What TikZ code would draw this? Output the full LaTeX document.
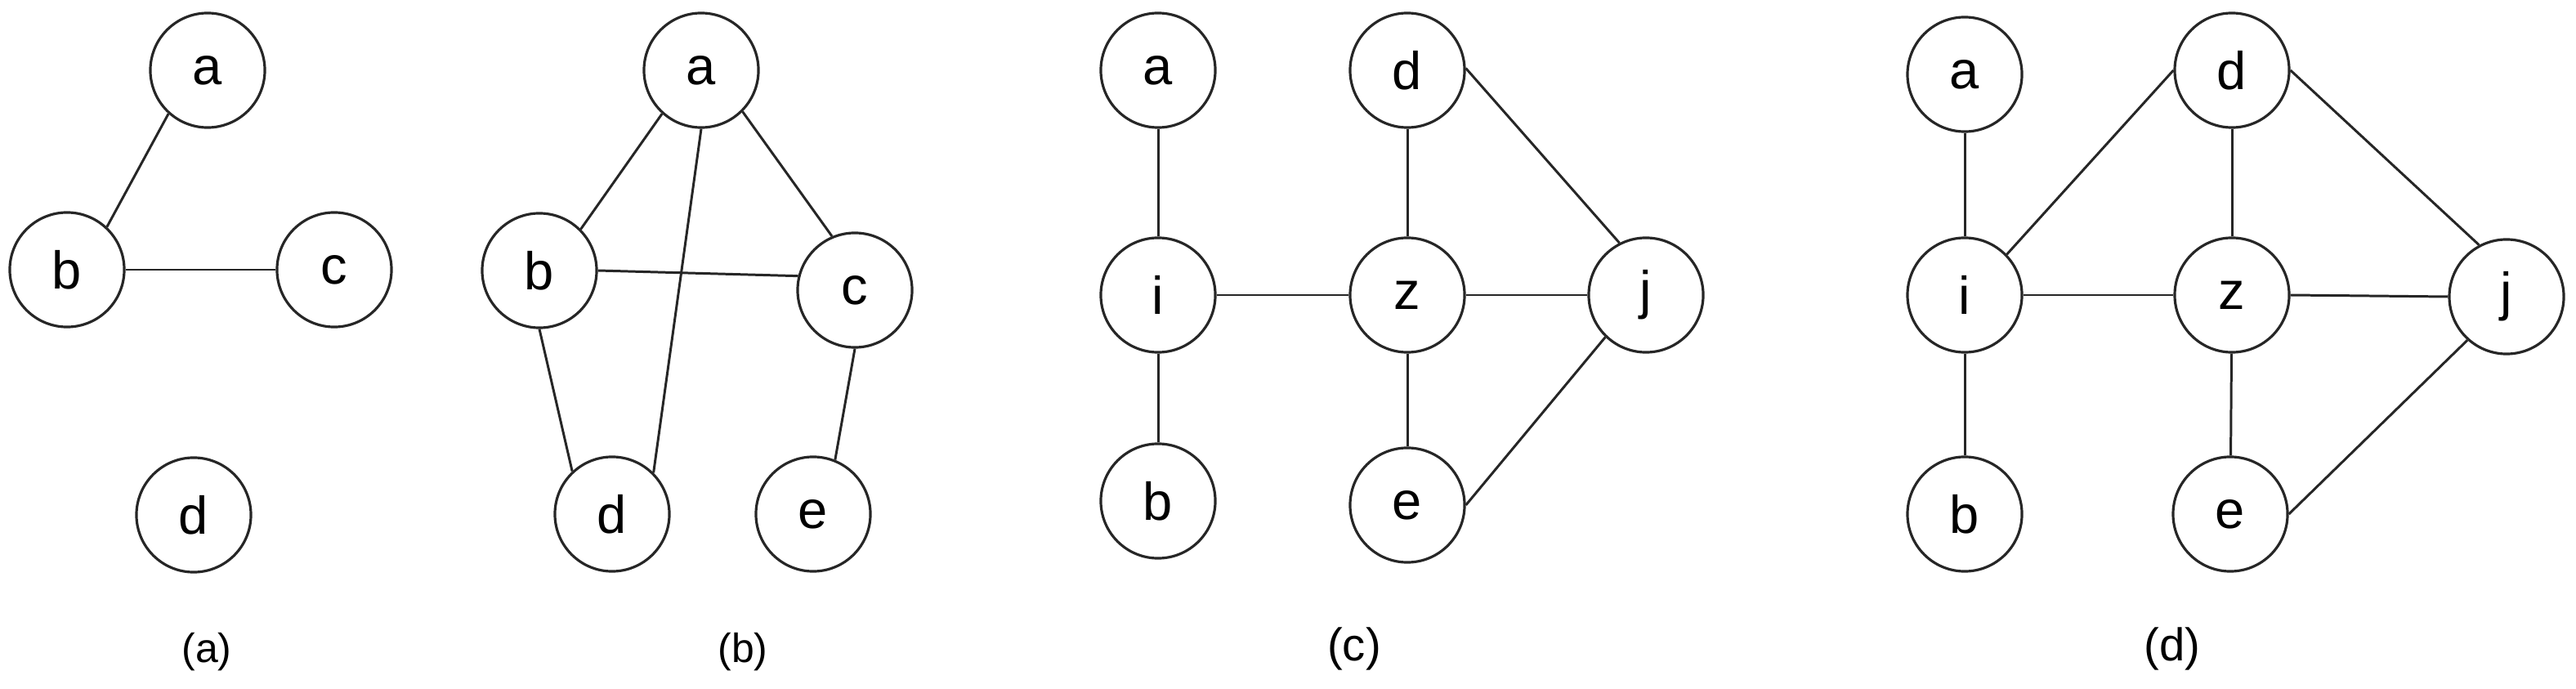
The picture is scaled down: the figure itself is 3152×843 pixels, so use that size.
\documentclass[tikz,border=0pt]{standalone}
\usepackage{fontspec}
\setmainfont{Liberation Sans}
\begin{document}
\begin{tikzpicture}[x=0.01cm,y=-0.01cm,
  vtx/.style={circle,draw=black!85,line width=0.9pt,minimum size=1.4cm,inner sep=0pt,font=\fontsize{18.5}{20}\selectfont},
  edge/.style={draw=black!85,line width=0.85pt},
  sublabel/.style={font=\fontsize{14.2}{16}\selectfont},
  biglabel/.style={font=\fontsize{16}{18}\selectfont}]
\useasboundingbox (0,0) rectangle (3152,843);
% (a)
\node[vtx] (aa) at (254,86) {a};
\node[vtx] (ab) at (82,330) {b};
\node[vtx] (ac) at (409,330) {c};
\node[vtx] (ad) at (237,630) {d};
\draw[edge] (aa.228) -- (ab.47);
\draw[edge] (ab.east) -- (ac.west);
\node[sublabel] (la) at (253,798) {(a)};
% (b)
\node[vtx] (ba) at (858,86) {a};
\node[vtx] (bb) at (660,331) {b};
\node[vtx] (bc) at (1046,355) {c};
\node[vtx] (bd) at (749,629) {d};
\node[vtx] (be) at (995,629) {e};
\draw[edge] (ba.228) -- (bb.45);
\draw[edge] (ba.315) -- (bc.113);
\draw[edge] (ba.270) -- (bd.45);
\draw[edge] (bb.0) -- (bc.166);
\draw[edge] (bb.270) -- (bd.133);
\draw[edge] (bc.270) -- (be.68);
\node[sublabel] (lb) at (909,798) {(b)};
% (c)
\node[vtx] (ca) at (1417,86) {a};
\node[vtx] (ci) at (1417,361) {i};
\node[vtx] (cb) at (1417,613) {b};
\node[vtx] (cd) at (1722,86) {d};
\node[vtx] (cz) at (1722,361) {z};
\node[vtx] (ce) at (1722,618) {e};
\node[vtx] (cj) at (2014,361) {j};
\draw[edge] (ca) -- (ci);
\draw[edge] (ci) -- (cb);
\draw[edge] (ci) -- (cz);
\draw[edge] (cd) -- (cz);
\draw[edge] (cz) -- (ce);
\draw[edge] (cz) -- (cj);
\draw[edge] (cd.2) -- (cj.117);
\draw[edge] (ce.0) -- (cj.226);
\node[biglabel] (lc) at (1657,794) {(c)};
% (d)
\node[vtx] (da) at (2404,91) {a};
\node[vtx] (di) at (2404,361) {i};
\node[vtx] (db) at (2404,629) {b};
\node[vtx] (dd) at (2731,86) {d};
\node[vtx] (dz) at (2731,361) {z};
\node[vtx] (de) at (2729,629) {e};
\node[vtx] (dj) at (3067,363) {j};
\draw[edge] (da) -- (di);
\draw[edge] (di) -- (db);
\draw[edge] (di) -- (dz);
\draw[edge] (di.44) -- (dd.180);
\draw[edge] (dd) -- (dz);
\draw[edge] (dz) -- (de);
\draw[edge] (dz.east) -- (dj.west);
\draw[edge] (dd.0) -- (dj.118);
\draw[edge] (de.0) -- (dj.228);
\node[biglabel] (ld) at (2658,794) {(d)};
\end{tikzpicture}
\end{document}
